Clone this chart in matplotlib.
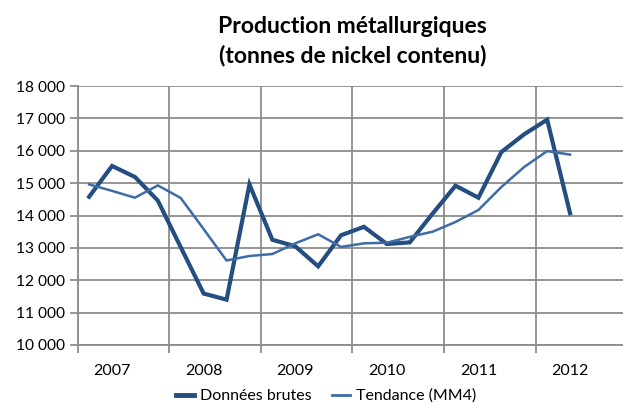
import matplotlib
matplotlib.use("Agg")
import matplotlib.pyplot as plt
from matplotlib.ticker import FuncFormatter

plt.rcParams['font.family'] = ['Lato', 'DejaVu Sans']

years = ["2007", "2008", "2009", "2010", "2011", "2012"]
brutes = [14580, 15530, 15190, 14460, 13020, 11590, 11400, 14960,
          13250, 13050, 12430, 13390, 13650, 13120, 13170, 14060,
          14920, 14550, 15960, 16510, 16960, 14070]
tendance = [14960, 14760, 14550, 14930, 14540, 13580, 12610, 12750,
            12810, 13140, 13420, 13030, 13140, 13160, 13340, 13500,
            13800, 14170, 14880, 15500, 15990, 15880]
yticks = [10000, 11000, 12000, 13000, 14000, 15000, 16000, 17000, 18000]

W, H = 623, 403
fig = plt.figure(figsize=(W / 100, H / 100), dpi=100)
ax = fig.add_axes([77.7 / W, (H - 345) / H, 549.6 / W, 259 / H])

x = [i + 0.5 for i in range(len(brutes))]
ax.plot(x, brutes, color='#244d80', lw=3.0, label='Données brutes', solid_joinstyle='miter', zorder=3)
ax.plot(x, tendance, color='#3d6ca6', lw=1.8, label='Tendance (MM4)', zorder=3)

ax.set_xlim(0, 4 * len(years))
ax.set_ylim(yticks[0], yticks[-1])
ax.set_yticks(yticks)
ax.yaxis.set_major_formatter(FuncFormatter(lambda v, p: f"{int(v):,}".replace(",", " ")))

ax.set_xticks([4 * k for k in range(len(years) + 1)])
ax.set_xticklabels([])
ax.set_xticks([4 * k + 1.5 for k in range(len(years))], minor=True)
ax.set_xticklabels(years, minor=True)
ax.tick_params(axis='x', which='minor', length=0, pad=14, labelsize=11.5)
ax.tick_params(axis='x', which='major', length=6, width=1.3, color='#8c8c8c')
ax.tick_params(axis='y', length=6, width=1.3, color='#8c8c8c', labelsize=11.2, pad=3)

ax.grid(True, which='major', color='#8c8c8c', lw=1.3)
ax.set_axisbelow(True)
for s in ['top', 'right']:
    ax.spines[s].set_visible(False)
for s in ['left', 'bottom']:
    ax.spines[s].set_color('#8c8c8c')
    ax.spines[s].set_linewidth(1.3)

fig.text((77.7 + 627.3) / 2 / W, 1 - 41 / H, "Production métallurgiques\n(tonnes de nickel contenu)",
         ha='center', va='center', fontsize=16.5, fontweight='bold', linespacing=1.4)

leg = fig.legend(loc='center', bbox_to_anchor=(326 / W, 1 - 396 / H), ncol=2, frameon=False,
                 fontsize=11.5, handlelength=1.15, columnspacing=1.25, handletextpad=0.35)
for h, lw in zip(leg.get_lines(), [3.5, 2.0]):
    h.set_linewidth(lw)

fig.savefig("out.png", dpi=100)
